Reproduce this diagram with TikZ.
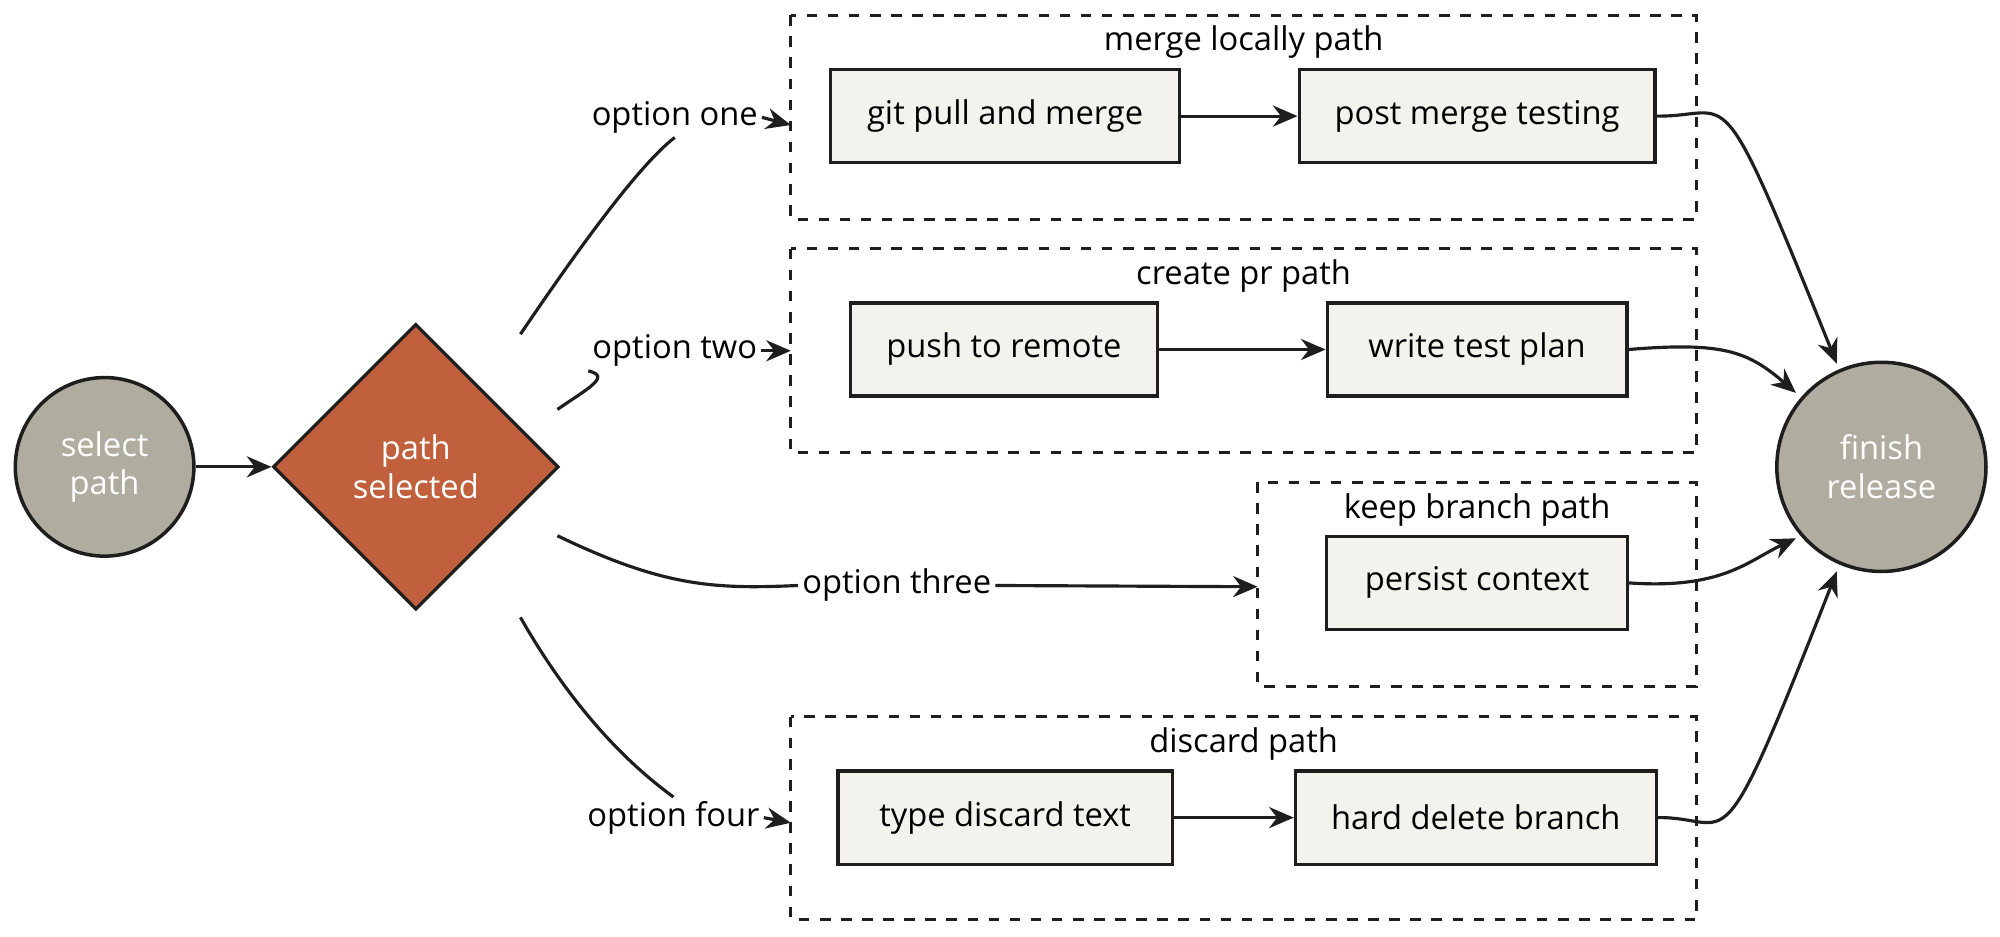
\documentclass[tikz,border=0pt]{standalone}
\usepackage{fontspec}
\setmainfont{Open Sans}
\usetikzlibrary{shapes.geometric,arrows.meta}
\definecolor{grayc}{HTML}{B0ADA0}
\definecolor{redd}{HTML}{C0603C}
\definecolor{boxf}{HTML}{F3F2EC}
\definecolor{ink}{HTML}{1E1E1E}
\def\U{0.012755cm}
\begin{document}
\begin{tikzpicture}[x=0.012755cm,y=-0.012755cm,font=\fontsize{9.3}{11}\selectfont,
  box/.style={draw=ink,fill=boxf,line width=0.9pt,inner sep=0pt},
  clus/.style={draw=ink,dashed,line width=0.9pt},
  circ/.style={circle,draw=ink,fill=grayc,line width=1pt,text=white,align=center,inner sep=0pt},
  arr/.style={-{Stealth[length=7pt,width=6pt]},line width=0.9pt,draw=ink},
  ln/.style={line width=0.9pt,draw=ink},
  lab/.style={fill=white,inner sep=1pt}]
\useasboundingbox (0,0) rectangle (1568,734);
% clusters
\draw[clus] (620,12) rectangle (1330,172);
\draw[clus] (620,195) rectangle (1330,355);
\draw[clus] (986,378) rectangle (1330,538);
\draw[clus] (620,562) rectangle (1330,721);
\node (c1) at (975,33) {merge locally path};
\node (c2) at (975,216) {create pr path};
\node (c3) at (1158,400) {keep branch path};
\node (c4) at (975,583) {discard path};
\coordinate (c1l) at (620,98);
\coordinate (c2l) at (620,275);
\coordinate (c3l) at (986,460);
\coordinate (c4l) at (620,645);
% main nodes
\node[circ,minimum size={140*\U}] (sel) at (82,366) {select\\path};
\node[diamond,draw=ink,fill=redd,line width=0.9pt,text=white,align=center,minimum width={224*\U},minimum height={224*\U},inner sep=0pt] (dia) at (326,366) {path\\selected};
\node[circ,minimum size={164*\U}] (fin) at (1475,366) {finish\\release};
% boxes
\node[box,minimum width={274*\U},minimum height={73*\U}] (b1) at (788,91) {git pull and merge};
\node[box,minimum width={279*\U},minimum height={73*\U}] (b2) at (1158,91) {post merge testing};
\node[box,minimum width={241*\U},minimum height={73*\U}] (b3) at (787,274) {push to remote};
\node[box,minimum width={235*\U},minimum height={73*\U}] (b4) at (1158,274) {write test plan};
\node[box,minimum width={236*\U},minimum height={73*\U}] (b5) at (1158,457) {persist context};
\node[box,minimum width={262*\U},minimum height={73*\U}] (b6) at (788,641) {type discard text};
\node[box,minimum width={283*\U},minimum height={73*\U}] (b7) at (1157,641) {hard delete branch};
% edges
\draw[arr] (sel) -- (dia);
\coordinate (d1) at (408,262);
\coordinate (d2) at (437,321);
\coordinate (d3) at (437,420);
\coordinate (d4) at (408,484);
\node[lab] (o1) at (529,92) {option one};
\node[lab] (o2) at (529,275) {option two};
\node[lab] (o3) at (703,459) {option three};
\node[lab] (o4) at (528,641) {option four};
\draw[ln] (d1) .. controls (450,200) and (500,130) .. (o1.south);
\draw[arr] (o1.east) -- (c1l);
\draw[ln] (d2) .. controls (460,305) and (480,295) .. (o2.south west);
\draw[arr] (o2.east) -- (c2l);
\draw[ln] (d3) .. controls (520,460) and (560,462) .. (o3.west);
\draw[arr] (o3.east) -- (c3l);
\draw[ln] (d4) .. controls (440,540) and (480,590) .. (o4.north);
\draw[arr] (o4.east) -- (c4l);
\draw[arr] (b1) -- (b2);
\draw[arr] (b3) -- (b4);
\draw[arr] (b6) -- (b7);
\coordinate (f1) at (1440,285);
\coordinate (f2) at (1408,308);
\coordinate (f3) at (1408,422);
\coordinate (f4) at (1440,448);
\draw[arr] (b2.east) .. controls (1360,92) and (1345,50) .. (f1);
\draw[arr] (b4.east) .. controls (1350,268) and (1370,275) .. (f2);
\draw[arr] (b5.east) .. controls (1350,462) and (1370,440) .. (f3);
\draw[arr] (b7.east) .. controls (1360,640) and (1345,690) .. (f4);
\end{tikzpicture}
\end{document}
